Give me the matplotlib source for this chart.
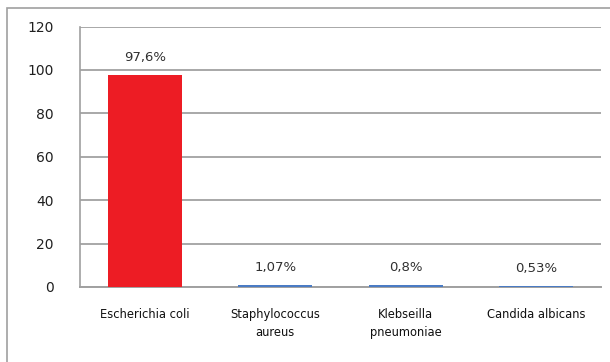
import numpy as np
from matplotlib import pyplot as plt
from matplotlib.patches import Rectangle

# organisms and their share of isolates (%)
organisms = ["Escherichia coli", "Staphylococcus\naureus", "Klebseilla\npneumoniae", "Candida albicans"]
shares = [97.6, 1.07, 0.8, 0.53]
share_labels = ["97,6%", "1,07%", "0,8%", "0,53%"]
bar_colors = ["#ED1C24", "#4A7BC4", "#4A7BC4", "#4A7BC4"]
yticks = [0, 20, 40, 60, 80, 100, 120]


def main():
    fig = plt.figure(figsize=(6.1, 3.62), dpi=100)
    ax = fig.add_axes([80 / 610, 1 - 287 / 362, 521 / 610, 260.5 / 362])

    x = np.arange(len(organisms))
    bars = ax.bar(x, shares, width=0.57, color=bar_colors, zorder=3)

    for rect, lab in zip(bars, share_labels):
        ax.annotate(lab, (rect.get_x() + rect.get_width() / 2, rect.get_height()),
                    xytext=(0, 8), textcoords="offset points",
                    ha="center", va="bottom", fontsize=9.5, color="#303030")

    ax.set_ylim(0, 120)
    ax.set_xlim(-0.5, len(organisms) - 0.5)
    ax.set_yticks(yticks)
    ax.set_xticks(x)
    ax.set_xticklabels(organisms, fontsize=8.3, linespacing=1.55)
    ax.tick_params(axis="y", length=0, pad=19, labelsize=10, labelcolor="#202020")
    ax.tick_params(axis="x", length=0, pad=15, labelcolor="#101010")
    ax.yaxis.grid(True, color="#A8A8A8", linewidth=1.4, zorder=0)

    for side in ("top", "right"):
        ax.spines[side].set_visible(False)
    ax.spines["left"].set_color("#A0A0A0")
    ax.spines["left"].set_linewidth(1.2)
    ax.spines["bottom"].set_color("#A0A0A0")
    ax.spines["bottom"].set_linewidth(1.4)

    # frame around the whole chart
    fig.add_artist(Rectangle((7 / 610, -0.2), 1.2, 1.2 - 8 / 362, transform=fig.transFigure,
                             fill=False, edgecolor="#A0A0A0", linewidth=1.2))

    fig.savefig("out.png", dpi=100)


if __name__ == "__main__":
    main()
